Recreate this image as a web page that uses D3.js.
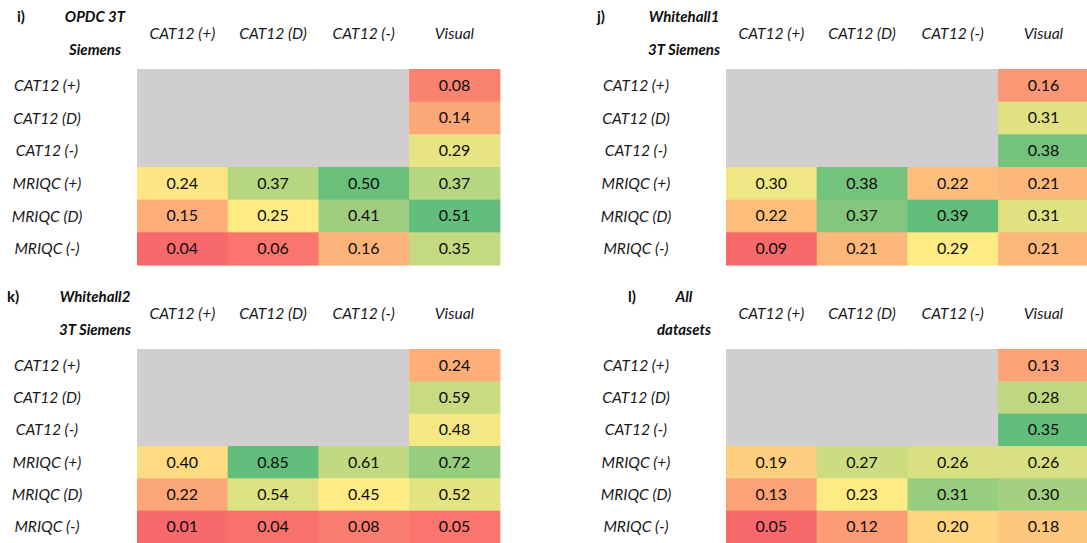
<!DOCTYPE html>
<html lang="en">
<head>
    <meta charset="UTF-8">
    <title>Agreement tables</title>
    <style>
        body { margin: 0; background: white; }
        svg { display: block; font-family: Lato, "Open Sans", sans-serif; }
        .lab { font-style: italic; font-size: 15.6px; fill: #1a1a1a; }
        .val { font-size: 16px; fill: #0d0d0d; }
        .ttl { font-style: italic; font-weight: bold; font-size: 15px; fill: #0d0d0d; }
        .tag { font-weight: bold; font-size: 15px; fill: #0d0d0d; }
    </style>
</head>
<body>
<script src="https://d3js.org/d3.v7.min.js"></script>
<script>
    // table labels
    var colLabels = ["CAT12 (+)", "CAT12 (D)", "CAT12 (-)", "Visual"];
    var rowLabels = ["CAT12 (+)", "CAT12 (D)", "CAT12 (-)", "MRIQC (+)", "MRIQC (D)", "MRIQC (-)"];
    var panelTags = ["i)", "j)", "k)", "l)"];
    var panelTitles = [["OPDC 3T", "Siemens"], ["Whitehall1", "3T Siemens"], ["Whitehall2", "3T Siemens"], ["All", "datasets"]];

    // values per panel, null = not compared (grey)
    var valuesI = [[null, null, null, 0.08], [null, null, null, 0.14], [null, null, null, 0.29],
                   [0.24, 0.37, 0.50, 0.37], [0.15, 0.25, 0.41, 0.51], [0.04, 0.06, 0.16, 0.35]];
    var valuesJ = [[null, null, null, 0.16], [null, null, null, 0.31], [null, null, null, 0.38],
                   [0.30, 0.38, 0.22, 0.21], [0.22, 0.37, 0.39, 0.31], [0.09, 0.21, 0.29, 0.21]];
    var valuesK = [[null, null, null, 0.24], [null, null, null, 0.59], [null, null, null, 0.48],
                   [0.40, 0.85, 0.61, 0.72], [0.22, 0.54, 0.45, 0.52], [0.01, 0.04, 0.08, 0.05]];
    var valuesL = [[null, null, null, 0.13], [null, null, null, 0.28], [null, null, null, 0.35],
                   [0.19, 0.27, 0.26, 0.26], [0.13, 0.23, 0.31, 0.30], [0.05, 0.12, 0.20, 0.18]];
    var panelValues = [valuesI, valuesJ, valuesK, valuesL];

    // where each panel sits
    var layout = [
        {gx: 137, gy: 69, gh: 196, top: 0, tagX: 17},
        {gx: 726, gy: 69, gh: 196, top: 0, tagX: 597},
        {gx: 137, gy: 349, gh: 194, top: 280, tagX: 7},
        {gx: 726, gy: 349, gh: 194, top: 280, tagX: 628}
    ];
    var colW = 90.7;

    var svg = d3.select("body").append("svg")
        .attr("width", 1087)
        .attr("height", 543);

    var fmt = d3.format(".2f");

    panelValues.forEach(function(vals, p) {
        var L = layout[p];
        var g = svg.append("g");

        var x = d3.scaleBand().domain(colLabels).range([L.gx, L.gx + colW * colLabels.length]);
        var y = d3.scaleBand().domain(rowLabels).range([L.gy, L.gy + L.gh]);

        // excel style 3 colour scale: min red, median yellow, max green
        var flat = [];
        vals.forEach(function(r) { r.forEach(function(v) { if (v !== null) flat.push(v); }); });
        var color = d3.scaleLinear()
            .domain([d3.min(flat), d3.median(flat), d3.max(flat)])
            .range(["#F8696B", "#FFEB84", "#63BE7B"]);

        var cells = [];
        vals.forEach(function(r, i) {
            r.forEach(function(v, j) {
                cells.push({row: rowLabels[i], col: colLabels[j], v: v});
            });
        });

        g.selectAll("rect.cell")
            .data(cells)
            .enter().append("rect")
            .attr("class", "cell")
            .attr("x", function(d) { return x(d.col); })
            .attr("y", function(d) { return y(d.row); })
            .attr("width", x.bandwidth() + 0.6)
            .attr("height", y.bandwidth() + 0.6)
            .attr("fill", function(d) { return d.v === null ? "#D0CECE" : color(d.v); });

        g.selectAll("text.val")
            .data(cells.filter(function(d) { return d.v !== null; }))
            .enter().append("text")
            .attr("class", "val")
            .attr("text-anchor", "middle")
            .attr("x", function(d) { return x(d.col) + x.bandwidth() / 2; })
            .attr("y", function(d) { return y(d.row) + y.bandwidth() * 0.52; })
            .attr("dy", "0.3em")
            .text(function(d) { return fmt(d.v); });

        // column headers
        g.selectAll("text.colh")
            .data(colLabels)
            .enter().append("text")
            .attr("class", "lab")
            .attr("text-anchor", "middle")
            .attr("x", function(d) { return x(d) + x.bandwidth() / 2; })
            .attr("y", L.top + 38.5)
            .text(function(d) { return d; });

        // row labels
        g.selectAll("text.rowh")
            .data(rowLabels)
            .enter().append("text")
            .attr("class", "lab")
            .attr("text-anchor", "middle")
            .attr("x", L.gx - 90)
            .attr("y", function(d) { return y(d) + y.bandwidth() * 0.53; })
            .attr("dy", "0.3em")
            .text(function(d) { return d; });

        // panel tag and title
        g.append("text")
            .attr("class", "tag")
            .attr("x", L.tagX)
            .attr("y", L.top + 22)
            .text(panelTags[p]);

        g.selectAll("text.ttl")
            .data(panelTitles[p])
            .enter().append("text")
            .attr("class", "ttl")
            .attr("text-anchor", "middle")
            .attr("x", L.gx - 42)
            .attr("y", function(d, i) { return L.top + 22 + i * 32.5; })
            .text(function(d) { return d; });
    });
</script>
</body>
</html>
